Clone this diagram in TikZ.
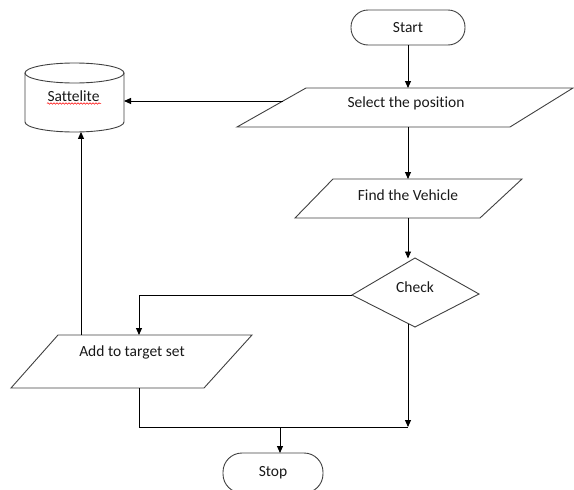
\documentclass[tikz,border=0pt]{standalone}
\usepackage{fontspec}
\setmainfont{Carlito}[Ligatures=NoCommon]
\usetikzlibrary{arrows.meta,decorations.pathmorphing}
\begin{document}
\begin{tikzpicture}[x=1pt,y=-1pt,
  shp/.style={draw=black!75,line width=0.9pt},
  conn/.style={line width=0.9pt,draw=black},
  arr/.style={conn,-{Triangle[length=7pt,width=6pt]}},
  lbl/.style={font=\fontsize{15.5}{18}\selectfont,text=black!90,inner sep=0pt},
  term/.style={shp,lbl,minimum width=#1,minimum height=35pt,rounded corners=17pt}]
\useasboundingbox (0,0) rectangle (574,490);
% Start
\node[term=114pt] (start) at (408,27.5) {Start};
% Select the position
\draw[shp] (306,88) -- (573,88) -- (510,127) -- (237,127) -- cycle;
\node[lbl] (sel) at (406,103) {Select the position};
\coordinate (selT) at (408,88);
\coordinate (selB) at (408,127);
\coordinate (selL) at (283,101);
% Sattelite cylinder
\draw[shp] (25,73) -- (25,122) arc[start angle=180,end angle=360,x radius=49.5pt,y radius=10pt] -- (124,73);
\draw[shp] (74.5,73) ellipse [x radius=49.5pt,y radius=10pt];
\node[lbl] (sat) at (73.5,96) {Sattelite};
\draw[red,line width=0.5pt,decorate,decoration={snake,amplitude=0.8pt,segment length=3pt}] (47,103.5) -- (101,103.5);
\coordinate (satR) at (124,101);
\coordinate (satB) at (81,131.9);
% Find the Vehicle
\draw[shp] (333,179) -- (522,179) -- (480,218) -- (295,218) -- cycle;
\node[lbl] (find) at (408,195) {Find the Vehicle};
\coordinate (findT) at (408,179);
\coordinate (findB) at (408,218);
% Check
\draw[shp] (415,258) -- (479,294) -- (415,327) -- (352,295) -- cycle;
\node[lbl] (check) at (415,287) {Check};
\coordinate (chkT) at (408,258.5);
\coordinate (chkL) at (352,295);
\coordinate (chkB) at (408,323.5);
% Add to target set
\draw[shp] (58,335) -- (252,335) -- (204,388) -- (11,388) -- cycle;
\node[lbl] (add) at (132,352) {Add to target set};
\coordinate (addT1) at (139,335);
\coordinate (addT2) at (81,335);
\coordinate (addB) at (139,388);
% Stop
\node[term=100pt,minimum height=40pt,rounded corners=19pt] (stop) at (273,473) {Stop};
\coordinate (join) at (408,427);
\coordinate (jmid) at (280,427);
\coordinate (stopT) at (280,453);
% connectors
\draw[arr] (start.south -| selT) -- (selT);
\draw[arr] (selL) -- (satR);
\draw[arr] (selB) -- (findT);
\draw[arr] (findB) -- (chkT);
\draw[arr] (chkL) -| (addT1);
\draw[arr] (addT2) -- (satB);
\draw[arr] (chkB) -- (join);
\draw[conn] (addB) |- (join);
\draw[arr] (jmid) -- (stopT);
\end{tikzpicture}
\end{document}
